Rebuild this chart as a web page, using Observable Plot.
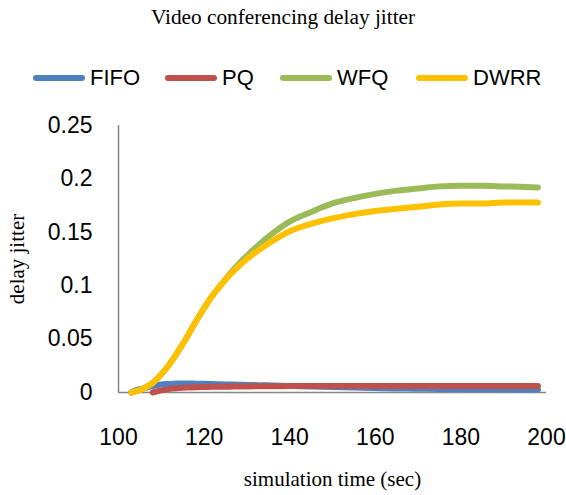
<!DOCTYPE html>
<html>
<head>
<meta charset="utf-8">
<script src="https://cdn.jsdelivr.net/npm/d3@7"></script>
<script src="https://cdn.jsdelivr.net/npm/@observablehq/plot@0.6"></script>
<style>
  html, body { margin: 0; padding: 0; background: #fff; }
  #wrap { position: relative; width: 566px; height: 495px; overflow: hidden; }
  #title { position: absolute; left: 0; width: 566px; top: 4px; text-align: center;
           font-family: "Liberation Serif", "Times New Roman", serif; font-size: 21.3px; line-height: 27px; color: #000; }
  #legend { position: absolute; left: 0; top: 63px; width: 566px; height: 32px; }
  .lg-line { position: absolute; height: 6px; border-radius: 3px; top: 12px; }
  .lg-text { position: absolute; top: 0px; font-family: "Liberation Sans", Arial, sans-serif;
             font-size: 22px; line-height: 30px; color: #000; }
  #chart { position: absolute; left: 0; top: 100px; }
</style>
</head>
<body>
<div id="wrap">
  <div id="title">Video conferencing delay jitter</div>
  <div id="legend"></div>
  <div id="chart"></div>
</div>
<script>
const seriesNames = ["FIFO", "PQ", "WFQ", "DWRR"];
const seriesColors = ["#4F81BD", "#C0504D", "#9BBB59", "#FFC000"];
const xTicks = [100, 120, 140, 160, 180, 200];
const yTicks = [0, 0.05, 0.1, 0.15, 0.2, 0.25];

const times = [103, 104, 106, 108, 110, 112, 114, 116, 118, 120, 122, 124, 126, 128, 130, 133, 136, 140, 145, 150, 155, 160, 165, 170, 175, 180, 185, 190, 195, 198];
const fifo = [0, 0.002, 0.004, 0.006, 0.0075, 0.008, 0.0085, 0.0085, 0.0083, 0.0081, 0.0079, 0.0077, 0.0075, 0.0073, 0.0071, 0.0068, 0.0066, 0.0062, 0.0057, 0.0052, 0.0047, 0.0042, 0.0038, 0.0035, 0.0033, 0.0031, 0.003, 0.0029, 0.0029, 0.0029];
const pq = [null, null, null, 0, 0.002, 0.0034, 0.0041, 0.0046, 0.0049, 0.0051, 0.0053, 0.0054, 0.0055, 0.0056, 0.0057, 0.0058, 0.0059, 0.006, 0.0061, 0.0061, 0.0062, 0.0062, 0.0062, 0.0062, 0.0062, 0.0062, 0.0062, 0.0062, 0.0062, 0.0062];
const wfq = [0, 0.001, 0.004, 0.009, 0.017, 0.027, 0.039, 0.052, 0.066, 0.079, 0.091, 0.101, 0.111, 0.120, 0.128, 0.139, 0.149, 0.160, 0.169, 0.177, 0.182, 0.186, 0.189, 0.191, 0.193, 0.1935, 0.1935, 0.193, 0.1925, 0.192];
const dwrr = [0, 0.001, 0.004, 0.009, 0.017, 0.027, 0.039, 0.052, 0.066, 0.079, 0.091, 0.101, 0.110, 0.118, 0.125, 0.134, 0.142, 0.151, 0.158, 0.163, 0.167, 0.170, 0.172, 0.174, 0.176, 0.177, 0.177, 0.178, 0.178, 0.178];
const seriesValues = [fifo, pq, wfq, dwrr];

const data = [];
seriesNames.forEach((name, i) => {
  times.forEach((t, j) => {
    const v = seriesValues[i][j];
    if (v != null) data.push({ series: name, t, v });
  });
});

// Legend
const legend = document.getElementById("legend");
const legendX = [33, 165, 280, 416];
seriesNames.forEach((name, i) => {
  const ln = document.createElement("div");
  ln.className = "lg-line";
  ln.style.left = legendX[i] + "px";
  ln.style.width = "52px";
  ln.style.background = seriesColors[i];
  legend.appendChild(ln);
  const tx = document.createElement("div");
  tx.className = "lg-text";
  tx.style.left = (legendX[i] + 57) + "px";
  tx.textContent = name;
  legend.appendChild(tx);
});

const tickFont = '"Liberation Sans", Arial, sans-serif';
const serif = '"Liberation Serif", "Times New Roman", serif';

const chart = Plot.plot({
  width: 566,
  height: 395,
  marginLeft: 118,
  marginRight: 20,
  marginTop: 25,
  marginBottom: 103,
  x: { domain: [100, 200] },
  y: { domain: [0, 0.25] },
  color: { domain: seriesNames, range: seriesColors },
  style: { background: "white", color: "#000" },
  marks: [
    Plot.axisX(xTicks, { tickSize: 0, tickPadding: 36, label: null, fontSize: 23, fontFamily: tickFont, tickFormat: d => String(d) }),
    Plot.axisY(yTicks, { tickSize: 0, tickPadding: 26, label: null, fontSize: 23, fontFamily: tickFont, tickFormat: d => String(d) }),
    Plot.ruleX([100], { stroke: "#868686", strokeWidth: 1.5 }),
    Plot.ruleY([0], { stroke: "#868686", strokeWidth: 1.5 }),
    Plot.line(data, { x: "t", y: "v", z: "series", stroke: "series", strokeWidth: 6, curve: "monotone-x", strokeLinecap: "round", strokeLinejoin: "round" }),
    Plot.text(["delay jitter"], { frameAnchor: "left", textAnchor: "middle", dx: -101, rotate: -90, fontSize: 21, fontFamily: serif, fill: "#000" }),
    Plot.text(["simulation time (sec)"], { frameAnchor: "bottom", dy: 93, fontSize: 21, fontFamily: serif, fill: "#000" })
  ]
});
document.getElementById("chart").appendChild(chart);
</script>
</body>
</html>
